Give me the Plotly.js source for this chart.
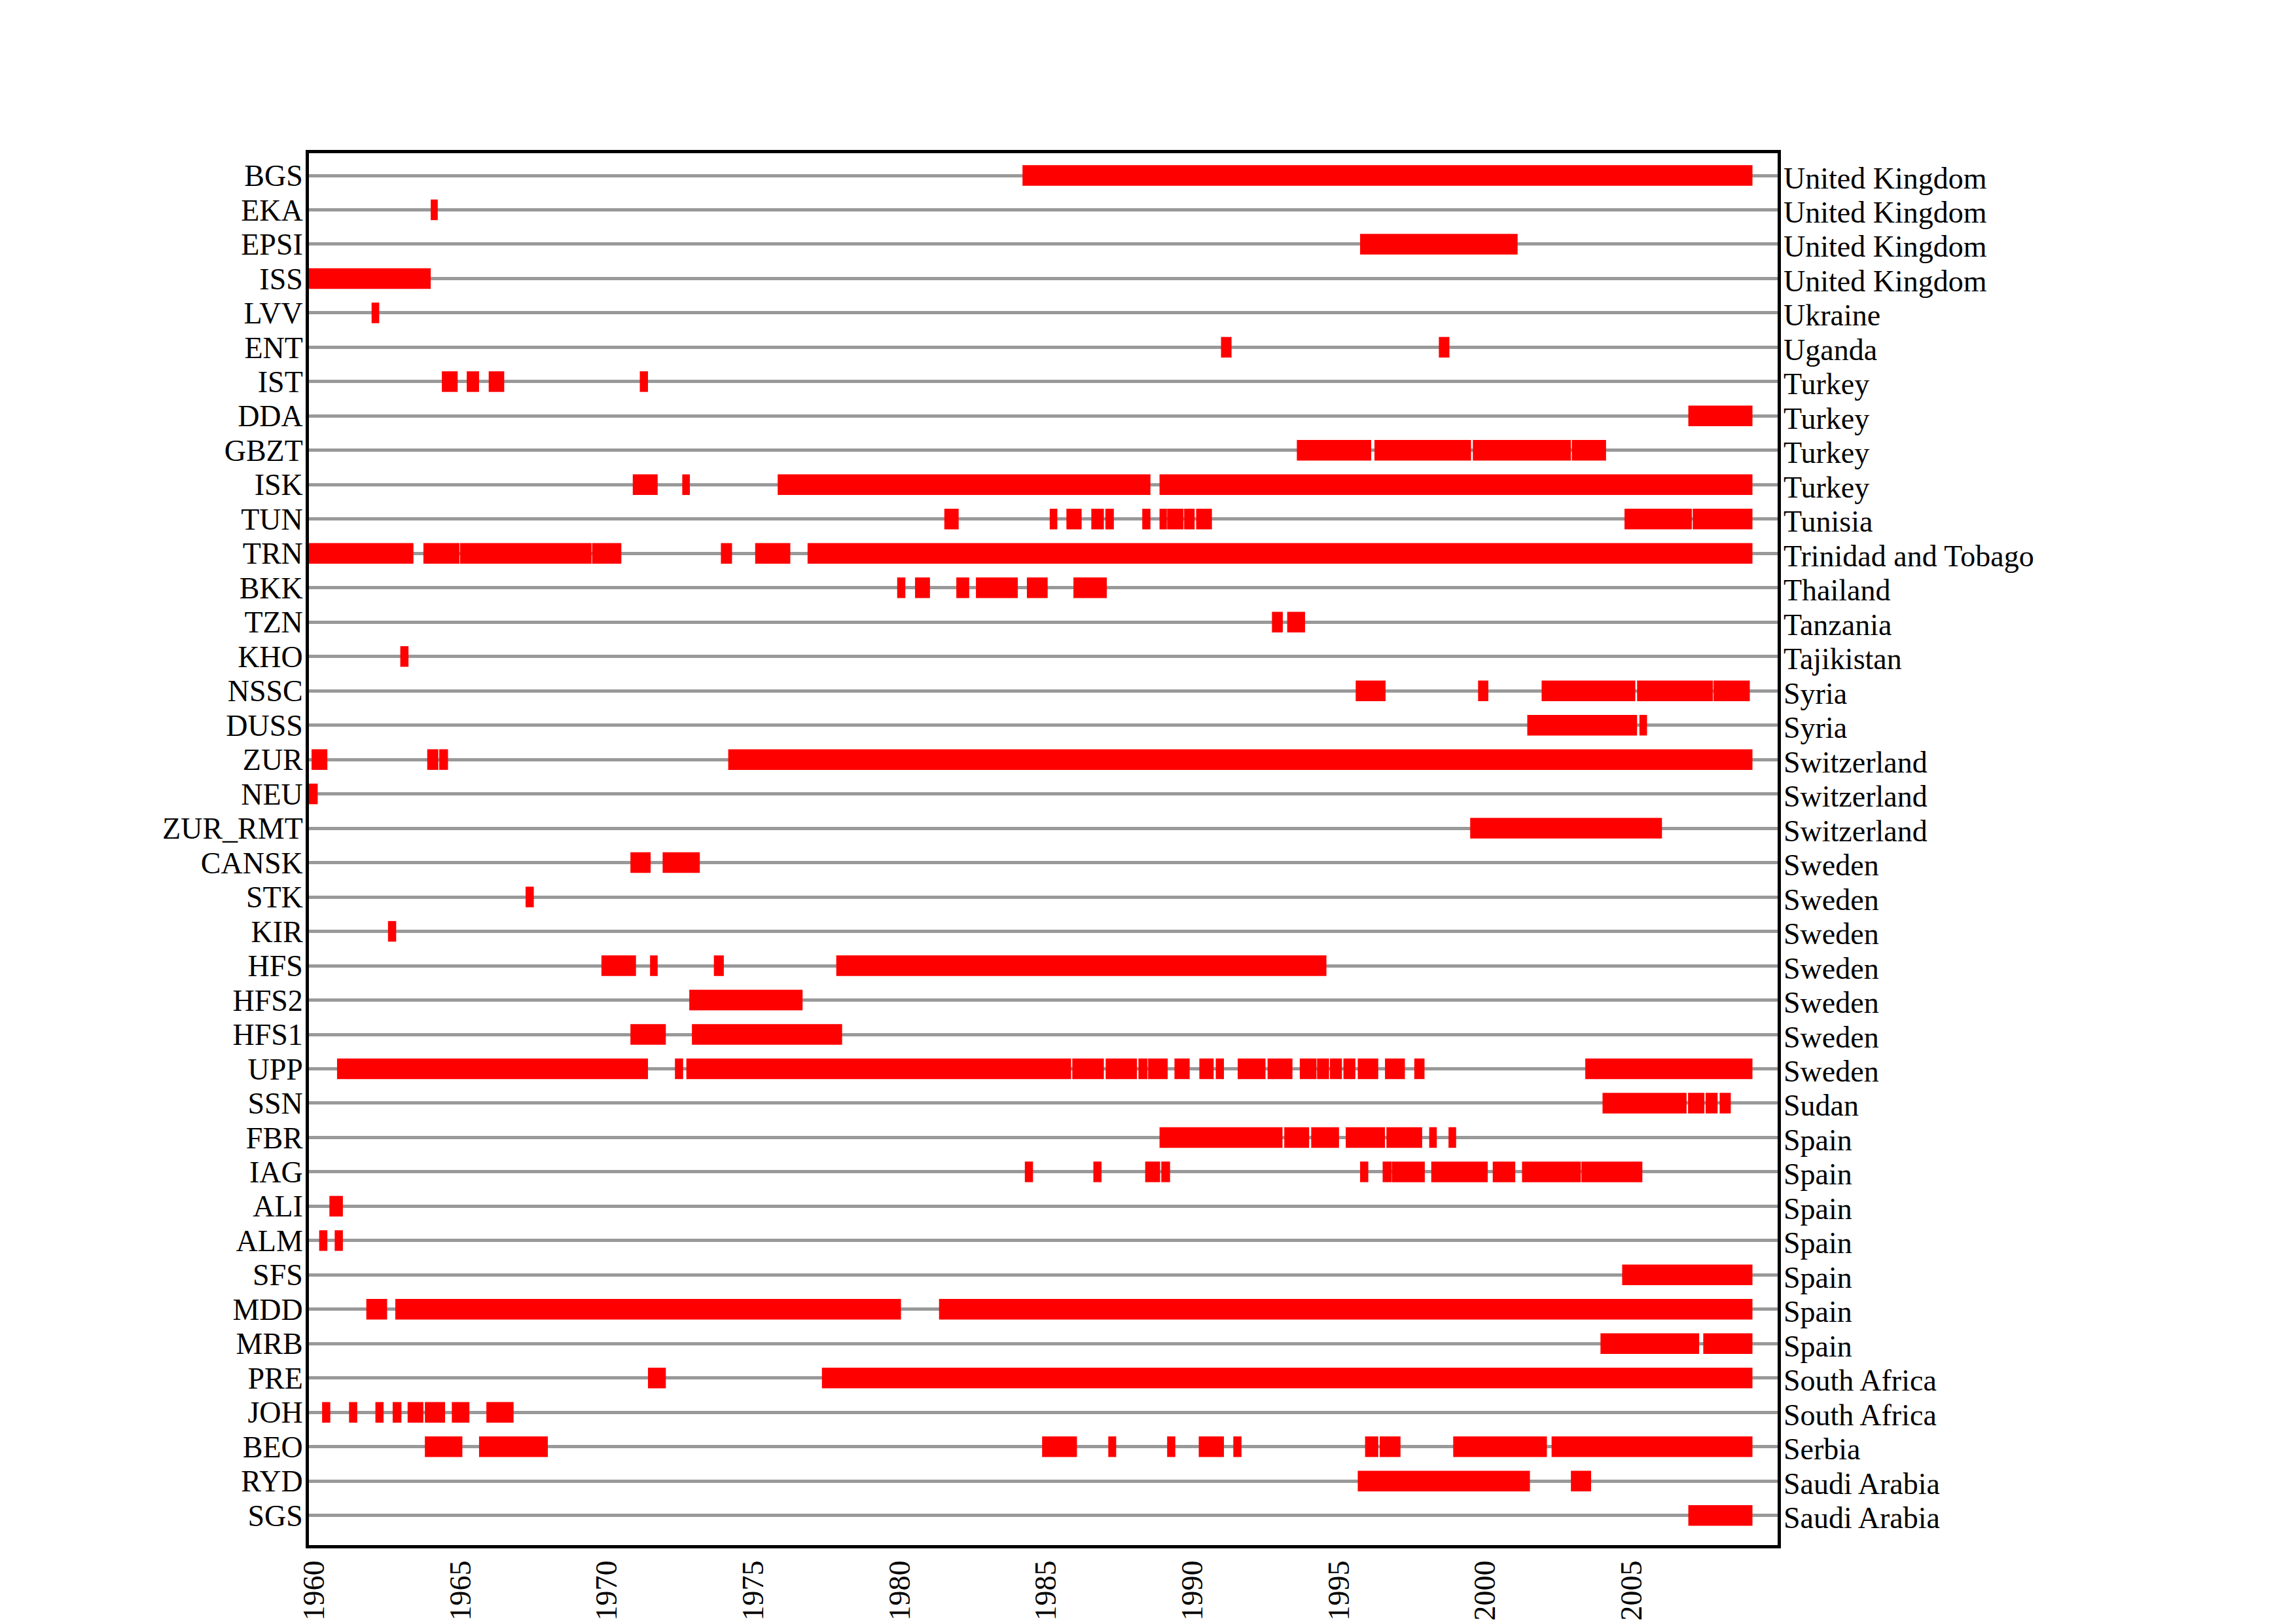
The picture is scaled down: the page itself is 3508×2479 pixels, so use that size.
<!DOCTYPE html>
<html>
<head>
<meta charset="utf-8">
<script src="https://cdn.plot.ly/plotly-3.0.1.min.js"></script>
<style>
  html, body { margin: 0; padding: 0; background: #ffffff; }
  #chart { width: 3508px; height: 2479px; }
</style>
</head>
<body>
<div id="chart"></div>
<script>
// Station codes (top to bottom)
const stations = ["BGS","EKA","EPSI","ISS","LVV","ENT","IST","DDA","GBZT","ISK","TUN","TRN","BKK","TZN","KHO","NSSC","DUSS","ZUR","NEU","ZUR_RMT","CANSK","STK","KIR","HFS","HFS2","HFS1","UPP","SSN","FBR","IAG","ALI","ALM","SFS","MDD","MRB","PRE","JOH","BEO","RYD","SGS"];

// Country of each station (right-hand labels)
const countries = ["United Kingdom","United Kingdom","United Kingdom","United Kingdom","Ukraine","Uganda","Turkey","Turkey","Turkey","Turkey","Tunisia","Trinidad and Tobago","Thailand","Tanzania","Tajikistan","Syria","Syria","Switzerland","Switzerland","Switzerland","Sweden","Sweden","Sweden","Sweden","Sweden","Sweden","Sweden","Sudan","Spain","Spain","Spain","Spain","Spain","Spain","Spain","South Africa","South Africa","Serbia","Saudi Arabia","Saudi Arabia"];

// Data periods [start year, end year] for each station, same order as stations
const periods = [
  /* BGS */  [[1984.37,2009.30]],
  /* EKA */  [[1964.16,1964.40]],
  /* EPSI */ [[1995.90,2001.28]],
  /* ISS */  [[1960.00,1964.16]],
  /* LVV */  [[1962.14,1962.40]],
  /* ENT */  [[1991.15,1991.51],[1998.59,1998.95]],
  /* IST */  [[1964.54,1965.08],[1965.39,1965.81],[1966.14,1966.67],[1971.30,1971.58]],
  /* DDA */  [[2007.11,2009.30]],
  /* GBZT */ [[1993.74,1996.28],[1996.39,1999.69],[1999.75,2003.10],[2003.13,2004.30]],
  /* ISK */  [[1971.06,1971.91],[1972.75,1973.01],[1976.01,1988.74],[1989.05,2009.30]],
  /* TUN */  [[1981.70,1982.19],[1985.30,1985.56],[1985.87,1986.39],[1986.72,1987.15],[1987.20,1987.49],[1988.46,1988.74],[1989.05,1989.30],[1989.31,1989.87],[1989.89,1990.25],[1990.30,1990.84],[2004.93,2007.23],[2007.26,2009.30]],
  /* TRN */  [[1960.00,1963.57],[1963.91,1965.14],[1965.16,1969.65],[1969.67,1970.67],[1974.07,1974.45],[1975.24,1976.44],[1977.03,2009.30]],
  /* BKK */  [[1980.09,1980.37],[1980.70,1981.21],[1982.11,1982.55],[1982.78,1984.21],[1984.52,1985.23],[1986.11,1987.25]],
  /* TZN */  [[1992.89,1993.26],[1993.41,1994.02]],
  /* KHO */  [[1963.12,1963.40]],
  /* NSSC */ [[1995.75,1996.77],[1999.93,2000.28],[2002.10,2005.30],[2005.36,2007.95],[2007.97,2009.21]],
  /* DUSS */ [[2001.61,2005.36],[2005.44,2005.70]],
  /* ZUR */  [[1960.09,1960.63],[1964.04,1964.42],[1964.45,1964.75],[1974.32,2009.30]],
  /* NEU */  [[1960.00,1960.30]],
  /* ZUR_RMT */ [[1999.66,2006.21]],
  /* CANSK */ [[1970.98,1971.67],[1972.08,1973.35]],
  /* STK */  [[1967.40,1967.68]],
  /* KIR */  [[1962.70,1962.98]],
  /* HFS */  [[1969.99,1971.17],[1971.65,1971.91],[1973.83,1974.17],[1978.01,1994.75]],
  /* HFS2 */ [[1972.99,1976.86]],
  /* HFS1 */ [[1970.98,1972.19],[1973.08,1978.21]],
  /* UPP */  [[1960.96,1971.58],[1972.50,1972.78],[1972.89,1986.03],[1986.07,1987.15],[1987.21,1988.28],[1988.33,1988.64],[1988.66,1989.33],[1989.56,1990.08],[1990.41,1990.90],[1990.97,1991.25],[1991.72,1992.67],[1992.74,1993.59],[1993.84,1994.41],[1994.43,1994.84],[1994.87,1995.28],[1995.33,1995.74],[1995.82,1996.52],[1996.75,1997.43],[1997.75,1998.10],[2003.59,2009.30]],
  /* SSN */  [[2004.18,2007.05],[2007.10,2007.66],[2007.70,2008.11],[2008.18,2008.56]],
  /* FBR */  [[1989.05,1993.25],[1993.31,1994.16],[1994.23,1995.18],[1995.41,1996.75],[1996.80,1998.02],[1998.26,1998.52],[1998.92,1999.18]],
  /* IAG */  [[1984.45,1984.73],[1986.79,1987.07],[1988.56,1989.07],[1989.11,1989.41],[1995.90,1996.18],[1996.67,1996.97],[1996.98,1998.11],[1998.33,2000.26],[2000.43,2001.20],[2001.43,2003.44],[2003.46,2005.54]],
  /* ALI */  [[1960.70,1961.16]],
  /* ALM */  [[1960.35,1960.63],[1960.88,1961.16]],
  /* SFS */  [[2004.85,2009.30]],
  /* MDD */  [[1961.96,1962.67],[1962.95,1980.22],[1981.52,2009.30]],
  /* MRB */  [[2004.11,2007.48],[2007.62,2009.30]],
  /* PRE */  [[1971.58,1972.19],[1977.52,2009.30]],
  /* JOH */  [[1960.45,1960.73],[1961.37,1961.65],[1962.27,1962.55],[1962.86,1963.16],[1963.37,1963.91],[1963.96,1964.65],[1964.88,1965.48],[1966.06,1966.99]],
  /* BEO */  [[1963.96,1965.24],[1965.81,1968.16],[1985.04,1986.23],[1987.30,1987.57],[1989.31,1989.59],[1990.39,1991.25],[1991.57,1991.85],[1996.07,1996.52],[1996.57,1997.28],[1999.08,2002.28],[2002.44,2009.30]],
  /* RYD */  [[1995.82,2001.70],[2003.10,2003.79]],
  /* SGS */  [[2007.11,2009.30]]
];

// X tick years
const yearTicks = [1960, 1965, 1970, 1975, 1980, 1985, 1990, 1995, 2000, 2005];

// Build bar arrays
const barY = [], barBase = [], barLen = [];
stations.forEach((s, i) => {
  periods[i].forEach(p => {
    barY.push(s);
    barBase.push(p[0]);
    barLen.push(p[1] - p[0]);
  });
});

const FONT = "Liberation Serif, Times New Roman, serif";

const trace = {
  type: "bar",
  orientation: "h",
  y: barY,
  x: barLen,
  base: barBase,
  width: 0.6,
  marker: { color: "#ff0000", line: { width: 0 } },
  hoverinfo: "skip",
  showlegend: false
};

const annotations = countries.map((c, i) => ({
  xref: "paper", yref: "y",
  x: 1, y: i,
  xanchor: "left", yanchor: "middle",
  xshift: 7, yshift: -4,
  text: c,
  showarrow: false,
  font: { family: FONT, size: 46, color: "#000000" }
}));

const layout = {
  width: 3508,
  height: 2479,
  margin: { l: 472, r: 792, t: 234, b: 119, pad: 0 },
  paper_bgcolor: "#ffffff",
  plot_bgcolor: "#ffffff",
  barmode: "overlay",
  showlegend: false,
  xaxis: {
    range: [1960, 2010.16],
    tickmode: "array",
    tickvals: yearTicks,
    ticktext: yearTicks.map(String),
    tickangle: -90,
    ticks: "",
    ticklabelshift: 8,
    showgrid: false,
    zeroline: false,
    showline: true,
    mirror: true,
    linecolor: "#000000",
    linewidth: 5,
    tickfont: { family: FONT, size: 46, color: "#000000" }
  },
  yaxis: {
    type: "category",
    categoryorder: "array",
    categoryarray: stations,
    tickmode: "array",
    tickvals: stations,
    ticktext: stations,
    range: [39.863, -0.648],
    autorange: false,
    ticks: "",
    ticklabelstandoff: -5,
    showgrid: true,
    gridcolor: "#999999",
    gridwidth: 5,
    zeroline: false,
    showline: true,
    mirror: true,
    linecolor: "#000000",
    linewidth: 5,
    tickfont: { family: FONT, size: 46, color: "#000000" }
  },
  annotations: annotations
};

Plotly.newPlot("chart", [trace], layout, { staticPlot: true, displayModeBar: false });
</script>
</body>
</html>
